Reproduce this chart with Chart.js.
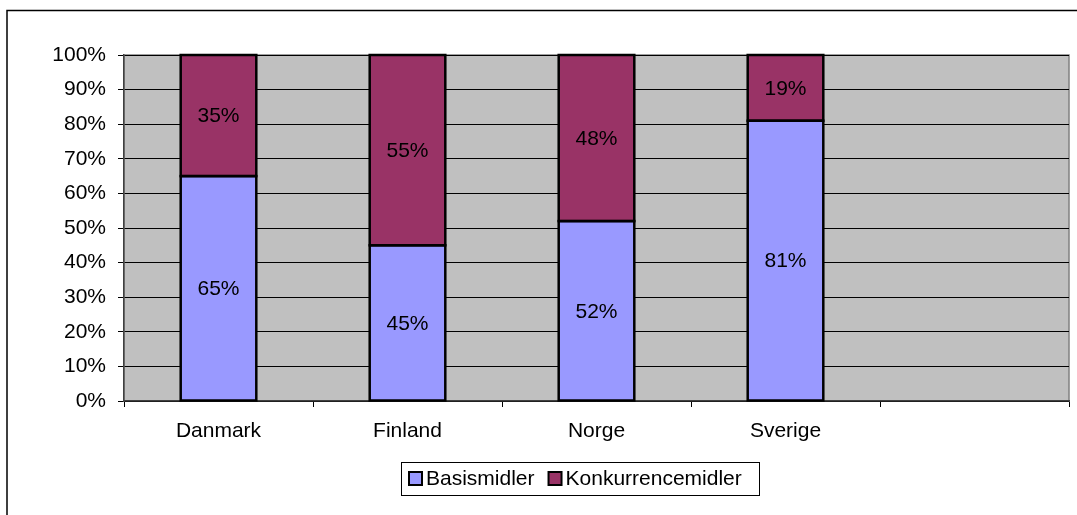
<!DOCTYPE html>
<html>
<head>
<meta charset="utf-8">
<script src="https://cdn.jsdelivr.net/npm/chart.js@4"></script>
<style>
  body { margin: 0; background: #fff; }
  #wrap { width: 1077px; height: 515px; }
</style>
</head>
<body>
<div id="wrap"><canvas id="chart" width="1077" height="515"></canvas></div>
<script>
// data
let countries = ['Danmark', 'Finland', 'Norge', 'Sverige', ''];
let basismidler = [65, 45, 52, 81, null];
let konkurrencemidler = [35, 55, 48, 19, null];
let yTicks = [0, 10, 20, 30, 40, 50, 60, 70, 80, 90, 100];

const FONT = 'Arial, "Liberation Sans", sans-serif';

// frame, grey plot area, bar labels and the boxed legend
const excelLook = {
    id: 'excelLook',
    beforeDraw(chart) {
        let ctx = chart.ctx;
        let a = chart.chartArea;
        ctx.save();
        ctx.fillStyle = '#fff';
        ctx.fillRect(0, 0, chart.width, chart.height);
        ctx.strokeStyle = '#000';
        ctx.lineWidth = 1.5;
        ctx.strokeRect(7, 10.5, 1200, 700);
        ctx.fillStyle = '#C0C0C0';
        ctx.fillRect(a.left, a.top, a.right - a.left, a.bottom - a.top);
        ctx.strokeStyle = '#808080';
        ctx.lineWidth = 1.5;
        ctx.strokeRect(a.left, a.top, a.right - a.left, a.bottom - a.top);
        ctx.restore();
    },
    afterDatasetsDraw(chart) {
        let ctx = chart.ctx;
        ctx.save();
        // outline every bar like Excel does
        ctx.strokeStyle = '#000';
        ctx.lineWidth = 2.5;
        chart.data.datasets.forEach((ds, i) => {
            chart.getDatasetMeta(i).data.forEach((bar, j) => {
                if (ds.data[j] == null) return;
                let w = bar.width;
                ctx.strokeRect(bar.x - w / 2, Math.min(bar.y, bar.base), w, Math.abs(bar.base - bar.y));
            });
        });
        ctx.font = '21px ' + FONT;
        ctx.fillStyle = '#000';
        ctx.textAlign = 'center';
        ctx.textBaseline = 'middle';
        chart.data.datasets.forEach((ds, i) => {
            chart.getDatasetMeta(i).data.forEach((bar, j) => {
                if (ds.data[j] == null) return;
                let mid = (bar.y + bar.base) / 2;
                ctx.fillText(ds.data[j] + '%', bar.x, mid + 1);
            });
        });
        ctx.restore();
    },
    afterDraw(chart) {
        let ctx = chart.ctx;
        ctx.save();
        // legend box
        let bx = 401, by = 462, bw = 358, bh = 33;
        ctx.fillStyle = '#fff';
        ctx.fillRect(bx, by, bw, bh);
        ctx.strokeStyle = '#000';
        ctx.lineWidth = 1;
        ctx.strokeRect(bx + 0.5, by + 0.5, bw, bh);
        ctx.font = '21px ' + FONT;
        ctx.textBaseline = 'middle';
        let x = bx + 8;
        chart.data.datasets.forEach(ds => {
            ctx.fillStyle = ds.backgroundColor;
            ctx.fillRect(x, by + 10, 13, 13);
            ctx.lineWidth = 2;
            ctx.strokeStyle = '#000';
            ctx.strokeRect(x, by + 10, 13, 13);
            ctx.fillStyle = '#000';
            ctx.fillText(ds.label, x + 17, by + bh / 2 + 1);
            x += 17 + ctx.measureText(ds.label).width + 14;
        });
        ctx.restore();
    }
};

let ctx = document.getElementById('chart').getContext('2d');

var chart = new Chart(ctx, {
    type: 'bar',
    data: {
        labels: countries,
        datasets: [{
            label: 'Basismidler',
            data: basismidler,
            backgroundColor: '#9999FF',
            borderWidth: 0
        }, {
            label: 'Konkurrencemidler',
            data: konkurrencemidler,
            backgroundColor: '#993366',
            borderWidth: 0
        }]
    },
    options: {
        responsive: false,
        animation: false,
        barPercentage: 0.4,
        categoryPercentage: 1,
        layout: { padding: { left: 0, top: 55, right: 8, bottom: 54 } },
        plugins: {
            legend: { display: false },
            tooltip: { enabled: false }
        },
        scales: {
            x: {
                stacked: true,
                grid: { drawOnChartArea: false, drawTicks: true, tickLength: 6, color: '#000', offset: true },
                border: { color: '#404040', width: 1.5 },
                ticks: { color: '#000', font: { family: FONT, size: 21 }, padding: 12, maxRotation: 0 },
                afterFit(scale) { scale.height = 60; }
            },
            y: {
                stacked: true,
                min: 0,
                max: 100,
                afterBuildTicks(scale) { scale.ticks = yTicks.map(v => ({ value: v })); },
                grid: { color: '#000', tickLength: 6, lineWidth: 1 },
                border: { color: '#404040', width: 1.5 },
                ticks: {
                    color: '#000',
                    font: { family: FONT, size: 21 },
                    padding: 12,
                    callback: v => v + '%'
                },
                afterFit(scale) { scale.width = 124; }
            }
        }
    },
    plugins: [excelLook]
});
</script>
</body>
</html>
